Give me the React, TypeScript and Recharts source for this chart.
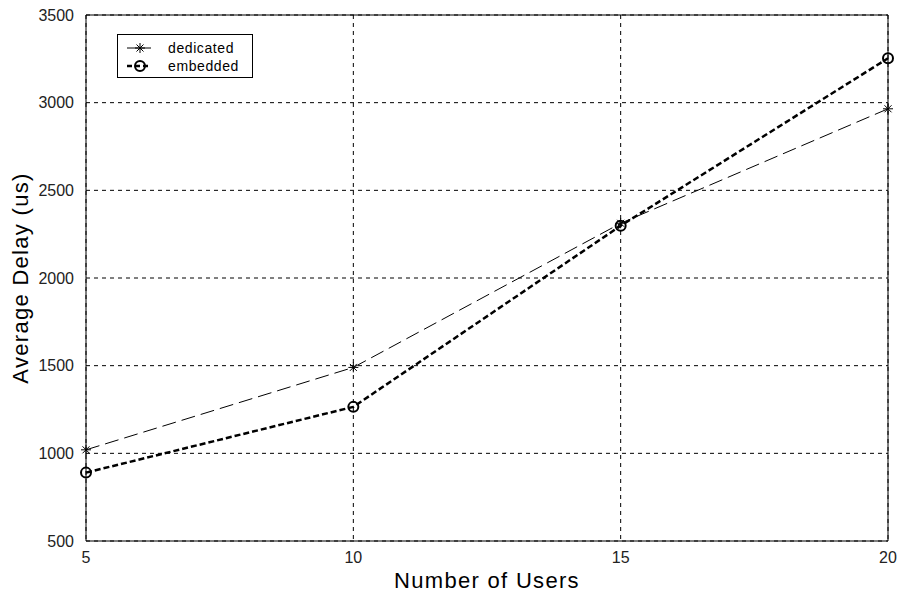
import { LineChart, Line, XAxis, YAxis, CartesianGrid, ReferenceArea } from "recharts";

const users = [5, 10, 15, 20];
const dedicated = [1020, 1490, 2312, 2965];
const embedded = [890, 1265, 2298, 3253];
const xTicks = [5, 10, 15, 20];
const yTicks = [500, 1000, 1500, 2000, 2500, 3000, 3500];

const data = users.map((u, i) => ({ users: u, dedicated: dedicated[i], embedded: embedded[i] }));

const FONT = "'Liberation Sans', Arial, sans-serif";

// asterisk marker for the dedicated series
const StarDot = (props: any) => {
  const { cx, cy } = props;
  if (cx == null || cy == null) return null;
  const r = 5;
  const d = r * 0.7;
  return (
    <g stroke="#000" strokeWidth={1}>
      <line x1={cx - r} y1={cy} x2={cx + r} y2={cy} />
      <line x1={cx} y1={cy - r} x2={cx} y2={cy + r} />
      <line x1={cx - d} y1={cy - d} x2={cx + d} y2={cy + d} />
      <line x1={cx - d} y1={cy + d} x2={cx + d} y2={cy - d} />
    </g>
  );
};

const CircleDot = (props: any) => {
  const { cx, cy } = props;
  if (cx == null || cy == null) return null;
  return <circle cx={cx} cy={cy} r={5} fill="none" stroke="#000" strokeWidth={2} />;
};

const LegendBox = () => (
  <div
    style={{
      position: "absolute",
      left: 117,
      top: 34,
      width: 136,
      height: 44,
      boxSizing: "border-box",
      border: "1px solid #000",
      background: "#fff",
    }}
  >
    <svg width={134} height={42} style={{ display: "block" }}>
      <line x1={9} y1={13} x2={33} y2={13} stroke="#000" strokeWidth={1} />
      <StarDot cx={22} cy={13} />
      <text x={50} y={18} fontSize={14} letterSpacing={0.6} fontFamily={FONT} fill="#000">dedicated</text>
      <line x1={9} y1={31} x2={33} y2={31} stroke="#000" strokeWidth={2.5} strokeDasharray="5 3" />
      <CircleDot cx={22} cy={31} />
      <text x={50} y={36} fontSize={14} letterSpacing={0.6} fontFamily={FONT} fill="#000">embedded</text>
    </svg>
  </div>
);

export default function App() {
  return (
    <div style={{ position: "absolute", left: 0, top: 0, width: 899, height: 592, background: "#fff" }}>
      <LineChart
        width={899}
        height={592}
        data={data}
        margin={{ top: 15, right: 11, bottom: 0, left: 0 }}
      >
        <CartesianGrid stroke="#000" strokeDasharray="4 4" strokeWidth={1} />
        <XAxis
          dataKey="users"
          type="number"
          domain={[5, 20]}
          ticks={xTicks}
          height={51}
          tickLine={false}
          axisLine={false}
          tickMargin={5}
          tick={{ fontSize: 16, fill: "#222", fontFamily: FONT }}
          label={{ value: "Number of Users", position: "insideBottom", offset: 4, fontSize: 22, letterSpacing: 1.3, fill: "#000", fontFamily: FONT }}
        />
        <YAxis
          type="number"
          domain={[500, 3500]}
          ticks={yTicks}
          width={86}
          tickLine={false}
          axisLine={false}
          tickMargin={6}
          tick={{ fontSize: 16, fill: "#222", fontFamily: FONT }}
          label={{ value: "Average Delay (us)", angle: -90, position: "insideLeft", offset: 20, fontSize: 22, letterSpacing: 1.3, fill: "#000", fontFamily: FONT, style: { textAnchor: "middle" } }}
        />
        <ReferenceArea x1={5} x2={20} y1={500} y2={3500} fill="none" stroke="#000" strokeWidth={1} ifOverflow="visible" />
        <Line
          dataKey="dedicated"
          stroke="#000"
          strokeWidth={1}
          strokeDasharray="14 6"
          dot={<StarDot />}
          activeDot={false}
          isAnimationActive={false}
        />
        <Line
          dataKey="embedded"
          stroke="#000"
          strokeWidth={2.5}
          strokeDasharray="6 3"
          dot={<CircleDot />}
          activeDot={false}
          isAnimationActive={false}
        />
      </LineChart>
      <LegendBox />
    </div>
  );
}
